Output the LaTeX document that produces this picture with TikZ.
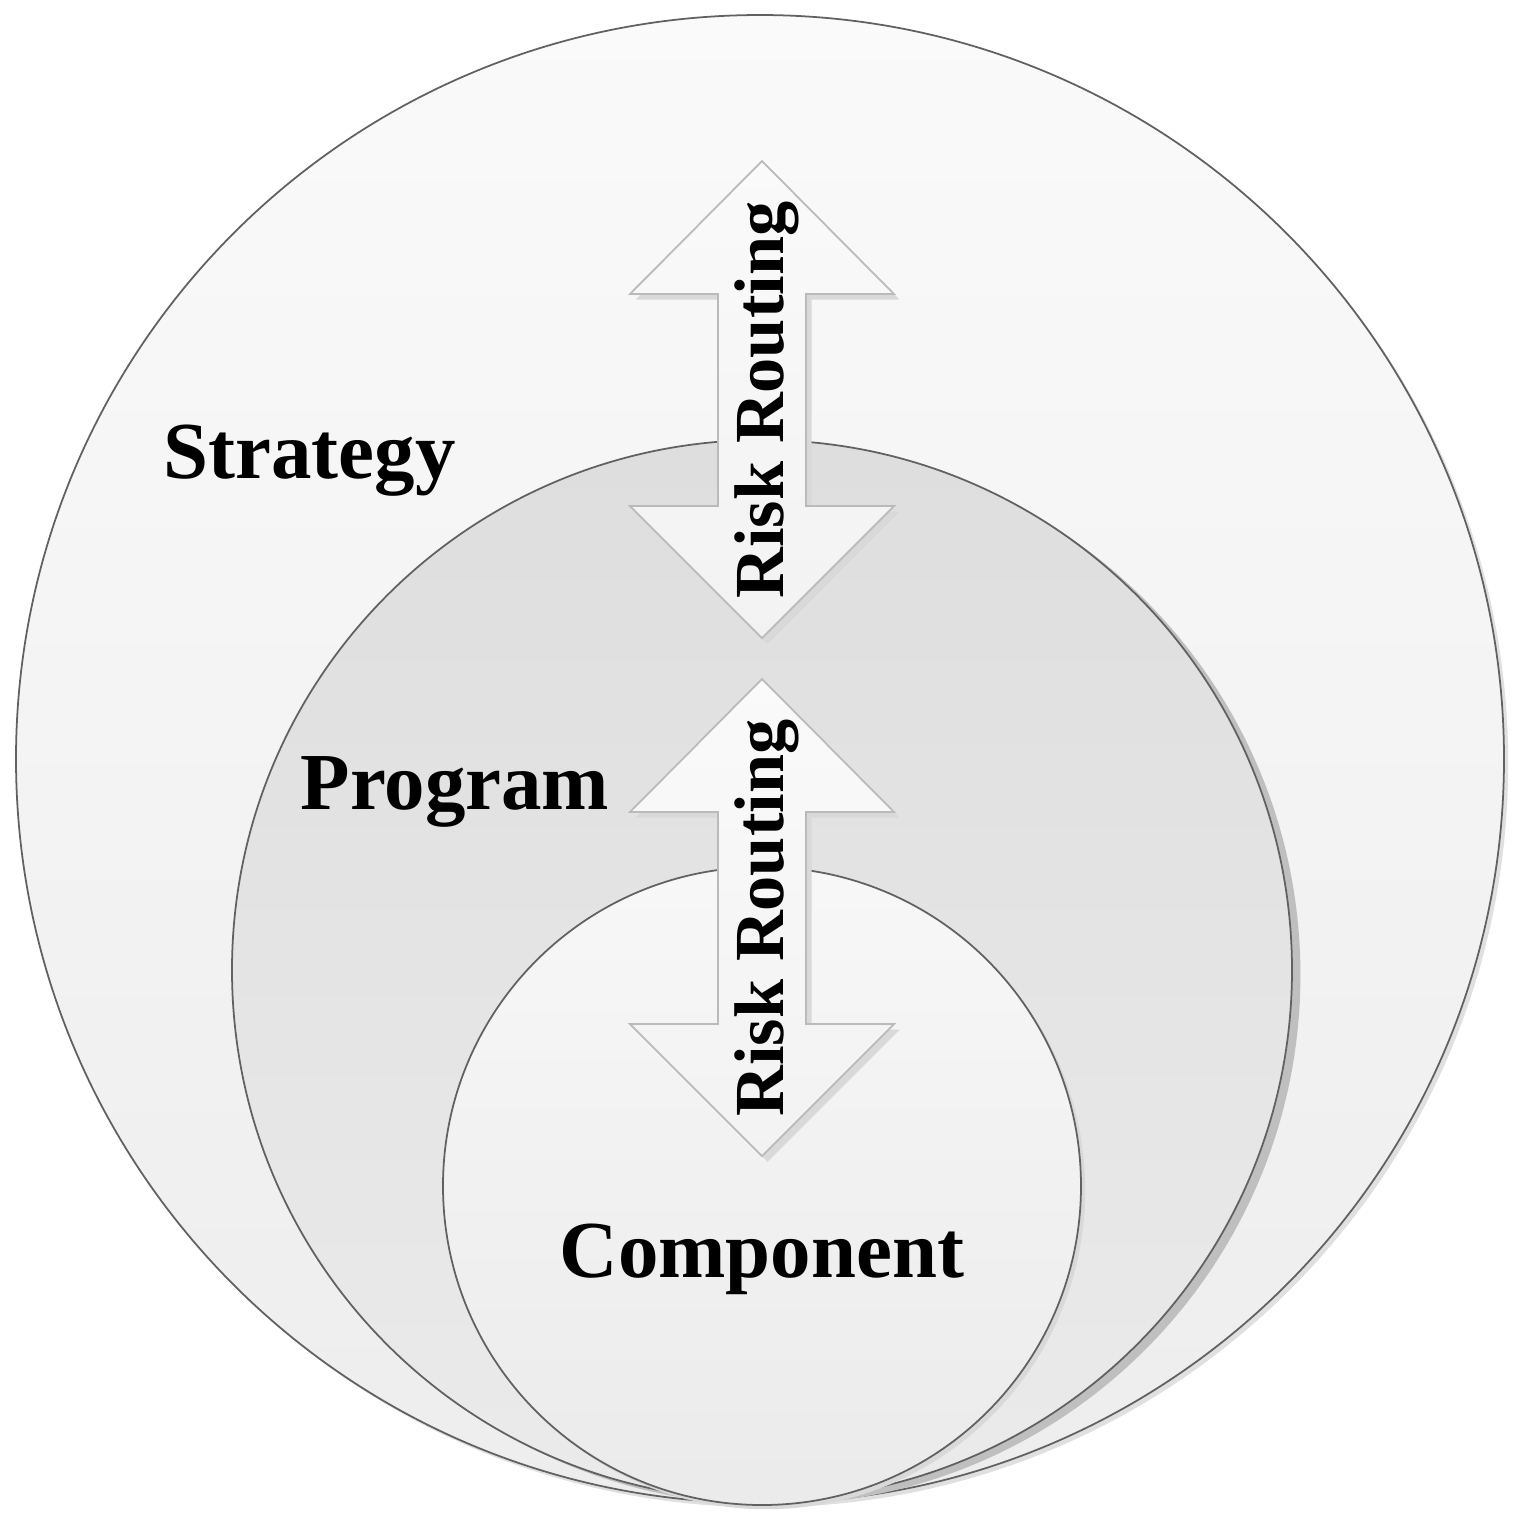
\documentclass[tikz,border=0pt]{standalone}
\usepackage{fontspec}
\setmainfont{Liberation Serif}
\usetikzlibrary{shadows}

\tikzset{
  ring/.style={draw=black!62, line width=0.5pt},
  levellabel/.style={font=\fontsize{23}{27}\selectfont\bfseries, inner sep=0pt},
  routelabel/.style={font=\fontsize{20}{24}\selectfont\bfseries, inner sep=0pt, rotate=90, anchor=base},
  riskarrow/.style={draw=black!27, line width=0.5pt, top color=black!2, bottom color=black!5,
    drop shadow={shadow xshift=1.6pt, shadow yshift=-1.6pt, fill=black!15, opacity=1}}
}

\begin{document}
\begin{tikzpicture}[x=0.01cm, y=-0.01cm]
	\useasboundingbox (0,0) rectangle (1526,1526);
	\fill[white] (0,0) rectangle (1526,1526);
	
	%--- centres of the three levels ---
	\coordinate (S) at (760,759);   % strategy
	\coordinate (P) at (762,970);   % program
	\coordinate (C) at (762,1186);  % component
	
	%--- centres of the two routing arrows ---
	\coordinate (A1) at (762,400);
	\coordinate (A2) at (762,918);
	
	% Strategy level (outer circle)
	\draw[ring, top color=black!2, bottom color=black!7,
	drop shadow={shadow xshift=1.2pt, shadow yshift=-1.2pt, fill=black!12, opacity=1}]
	(S) circle (744);
	
	% Program level
	\draw[ring, top color=black!13, bottom color=black!8,
	drop shadow={shadow xshift=2.4pt, shadow yshift=-1.4pt, fill=black!25, opacity=1}]
	(P) circle (530);
	
	% Component level
	\draw[ring, top color=black!3, bottom color=black!8,
	drop shadow={shadow xshift=1.2pt, shadow yshift=-1.2pt, fill=black!15, opacity=1}]
	(C) circle (319);
	
	% Routing arrows (double headed)
	\path[riskarrow, shift={(A1)}]
	(0,-239) -- (132,-106) -- (44,-106) -- (44,106) -- (132,106) -- (0,238)
	-- (-132,106) -- (-44,106) -- (-44,-106) -- (-132,-106) -- cycle;
	\path[riskarrow, shift={(A2)}]
	(0,-239) -- (132,-106) -- (44,-106) -- (44,106) -- (132,106) -- (0,238)
	-- (-132,106) -- (-44,106) -- (-44,-106) -- (-132,-106) -- cycle;
	
	% Labels
	\node[levellabel, anchor=base west] (strategylbl) at (163,478) {Strategy};
	\node[levellabel, anchor=base west] (programlbl) at (300,809) {Program};
	\node[levellabel, anchor=base] (componentlbl) at (762,1277) {Component};
	
	\node[routelabel] (route1) at (783,400) {Risk Routing};
	\node[routelabel] (route2) at (783,918) {Risk Routing};
	
\end{tikzpicture}
\end{document}
